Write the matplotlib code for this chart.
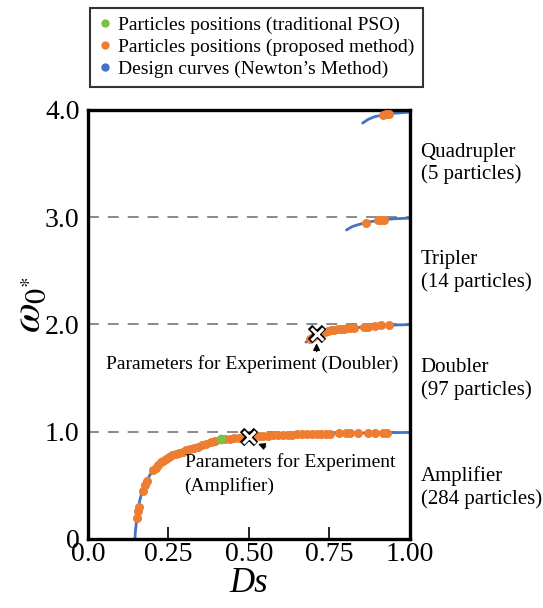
import matplotlib
matplotlib.use("Agg")
import matplotlib.pyplot as plt
from matplotlib.lines import Line2D

plt.rcParams['font.family'] = ['Liberation Serif', 'DejaVu Serif']
plt.rcParams['mathtext.fontset'] = 'stix'

# design curves (Newton's method)
amp_x = [0.146, 0.147, 0.149, 0.152, 0.156, 0.161, 0.166, 0.172, 0.178, 0.184, 0.193, 0.203, 0.213,
         0.224, 0.238, 0.255, 0.275, 0.296, 0.32, 0.35, 0.38, 0.41, 0.45, 0.50, 0.55, 0.60, 0.67,
         0.75, 0.83, 0.90, 1.0]
amp_y = [0.0, 0.06, 0.12, 0.20, 0.28, 0.36, 0.42, 0.47, 0.51, 0.55, 0.60, 0.64, 0.675,
         0.71, 0.74, 0.77, 0.79, 0.81, 0.84, 0.87, 0.905, 0.925, 0.94, 0.955, 0.963, 0.97, 0.977,
         0.983, 0.987, 0.99, 0.993]
dbl_x = [0.677, 0.69, 0.71, 0.74, 0.78, 0.82, 0.87, 0.93, 1.0]
dbl_y = [1.834, 1.865, 1.905, 1.93, 1.952, 1.965, 1.98, 1.992, 1.998]
tri_x = [0.803, 0.82, 0.84, 0.86, 0.88, 0.91, 0.95, 1.0]
tri_y = [2.88, 2.91, 2.93, 2.945, 2.958, 2.972, 2.984, 2.99]
quad_x = [0.853, 0.87, 0.89, 0.92, 0.95, 1.0]
quad_y = [3.876, 3.91, 3.935, 3.955, 3.967, 3.978]

# particles (proposed method)
p_amp_x = [0.152, 0.155, 0.158, 0.170, 0.176, 0.182, 0.202, 0.210, 0.218, 0.226, 0.234, 0.243,
           0.252, 0.262, 0.272, 0.283, 0.294, 0.305, 0.317, 0.329, 0.342, 0.355, 0.368, 0.382,
           0.396, 0.425, 0.44, 0.455, 0.47, 0.485, 0.515, 0.53, 0.545, 0.56, 0.575, 0.59, 0.605,
           0.62, 0.635, 0.65, 0.665, 0.68, 0.695, 0.71, 0.725, 0.74, 0.752, 0.78, 0.80, 0.815,
           0.84, 0.87, 0.89, 0.915, 0.93]
p_amp_y = [0.20, 0.26, 0.30, 0.45, 0.50, 0.54, 0.64, 0.665, 0.69, 0.715, 0.73, 0.75,
           0.765, 0.78, 0.79, 0.80, 0.81, 0.825, 0.84, 0.85, 0.86, 0.875, 0.885, 0.90,
           0.91, 0.93, 0.935, 0.94, 0.945, 0.95, 0.957, 0.96, 0.961, 0.963, 0.965, 0.968, 0.97,
           0.972, 0.973, 0.974, 0.975, 0.976, 0.977, 0.979, 0.98, 0.981, 0.983, 0.984, 0.985, 0.986,
           0.987, 0.988, 0.989, 0.99, 0.99]
p_dbl_x = [0.69, 0.70, 0.715, 0.725, 0.735, 0.745, 0.755, 0.765, 0.775, 0.785, 0.795, 0.805,
           0.815, 0.825, 0.856, 0.862, 0.87, 0.89, 0.91, 0.935]
p_dbl_y = [1.86, 1.885, 1.91, 1.92, 1.93, 1.937, 1.944, 1.95, 1.955, 1.958, 1.961, 1.963,
           1.965, 1.967, 1.975, 1.977, 1.98, 1.985, 1.99, 1.993]
p_tri_x = [0.865, 0.90, 0.91, 0.92]
p_tri_y = [2.945, 2.97, 2.974, 2.977]
p_quad_x = [0.915, 0.925, 0.935]
p_quad_y = [3.952, 3.958, 3.962]

# traditional PSO particle
pso_x = [0.412]
pso_y = [0.93]

# chosen experiment parameters
exp_x = [0.501, 0.710]
exp_y = [0.954, 1.909]

levels = [1, 2, 3]
mode_names = ["Amplifier\n(284 particles)", "Doubler\n(97 particles)",
              "Tripler\n(14 particles)", "Quadrupler\n(5 particles)"]
mode_y = [0.48, 1.49, 2.50, 3.50]

x_ticks = [0.0, 0.25, 0.5, 0.75, 1.0]
x_labels = ["0.0", "0.25", "0.50", "0.75", "1.00"]
y_ticks = [0, 1, 2, 3, 4]
y_labels = ["0", "1.0", "2.0", "3.0", "4.0"]

blue = "#4472C4"
orange = "#ED7D31"
green = "#7CC242"

fig = plt.figure(figsize=(5.43, 6.08), dpi=100)
ax = fig.add_axes([0.162, 0.1135, 0.593, 0.706])

# dashed reference levels
for lv in levels:
    ax.plot([0, 1], [lv, lv], color="#808080", lw=1.3, dashes=[6, 5], zorder=1)

for cx, cy in [(amp_x, amp_y), (dbl_x, dbl_y), (tri_x, tri_y), (quad_x, quad_y)]:
    ax.plot(cx, cy, color=blue, lw=2, zorder=2, solid_capstyle='round')

for px, py in [(p_amp_x, p_amp_y), (p_dbl_x, p_dbl_y), (p_tri_x, p_tri_y), (p_quad_x, p_quad_y)]:
    ax.plot(px, py, 'o', color=orange, ms=6.5, mec='none', zorder=3)

ax.plot(pso_x, pso_y, 'o', color=green, ms=7, mec='none', zorder=4)
# outlined cross: black under white
ax.plot(exp_x, exp_y, 'x', color='black', mew=4.5, ms=10, zorder=5)
ax.plot(exp_x, exp_y, 'x', color='white', mew=2.2, ms=9, zorder=6)

ax.annotate("", xy=(0.710, 1.85), xytext=(0.710, 1.72),
            arrowprops=dict(arrowstyle='-|>', color='black', lw=1, mutation_scale=10))
ax.text(0.51, 1.63, "Parameters for Experiment (Doubler)", fontsize=14,
        ha='center', va='center')
ax.annotate("", xy=(0.52, 0.895), xytext=(0.56, 0.85),
            arrowprops=dict(arrowstyle='-|>', color='black', lw=1, mutation_scale=10))
ax.text(0.30, 0.72, "Parameters for Experiment", fontsize=14, ha='left', va='center')
ax.text(0.30, 0.495, "(Amplifier)", fontsize=14, ha='left', va='center')

for name, my in zip(mode_names, mode_y):
    ax.text(1.033, my, name, fontsize=15, ha='left', va='center', linespacing=1.2,
            clip_on=False)

ax.set_xlim(0, 1)
ax.set_ylim(0, 4)
ax.set_xticks(x_ticks)
ax.set_xticklabels(x_labels, fontsize=20)
ax.set_yticks(y_ticks)
ax.set_yticklabels(y_labels, fontsize=20)
ax.tick_params(axis='x', direction='in', length=9, width=1.2, pad=2)
ax.tick_params(axis='y', direction='in', length=0, pad=6)
for sp in ax.spines.values():
    sp.set_linewidth(2.4)

ax.set_xlabel("Ds", fontsize=25, style='italic', labelpad=0)
fig.text(30 / 543, 1 - 305 / 608, r"$\omega_{0^{*}}$", fontsize=31, rotation=90,
         ha='center', va='center')

handles = [
    Line2D([], [], marker='o', ls='none', color=green, ms=6, mec='none'),
    Line2D([], [], marker='o', ls='none', color=orange, ms=6, mec='none'),
    Line2D([], [], marker='o', ls='none', color=blue, ms=6, mec='none'),
]
labels = ["Particles positions (traditional PSO)",
          "Particles positions (proposed method)",
          "Design curves (Newton\u2019s Method)"]
leg = fig.legend(handles, labels, loc='upper left', bbox_to_anchor=(0.166, 0.987),
                 fontsize=14, frameon=True, fancybox=False, edgecolor='black',
                 handlelength=0.6, handletextpad=0.4, labelspacing=0.22, borderpad=0.45,
                 borderaxespad=0)
leg.get_frame().set_linewidth(1.5)

fig.savefig("out.png", dpi=100)
